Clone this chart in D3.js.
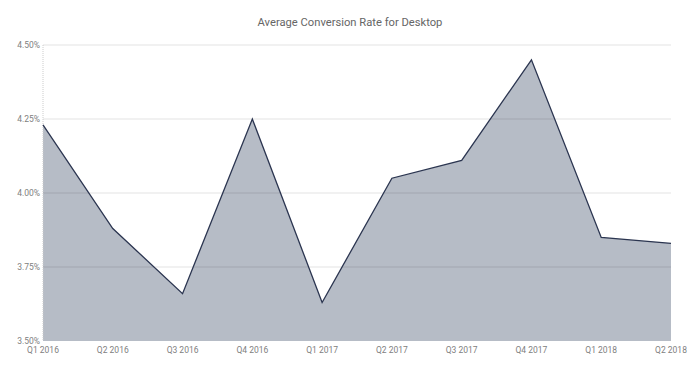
<!DOCTYPE html>
<html>
<head>
<meta charset="utf-8">
<script src="https://cdn.jsdelivr.net/npm/d3@7"></script>
<style>
  body { margin: 0; background: #fff; }
  text { font-family: Roboto, "Noto Sans", sans-serif; }
</style>
</head>
<body>
<svg id="chart" width="700" height="371"></svg>
<script>
const width = 700;
const height = 371;
const margin = { top: 45, right: 29, bottom: 30, left: 43 };

const quarters = ['Q1 2016', 'Q2 2016', 'Q3 2016', 'Q4 2016', 'Q1 2017',
  'Q2 2017', 'Q3 2017', 'Q4 2017', 'Q1 2018', 'Q2 2018'];
const rates = [4.23, 3.88, 3.66, 4.25, 3.63, 4.05, 4.11, 4.45, 3.85, 3.83];
const yTicks = [3.5, 3.75, 4.0, 4.25, 4.5];
const title = 'Average Conversion Rate for Desktop';

const svg = d3.select('#chart');

const x = d3.scalePoint()
  .domain(quarters)
  .range([margin.left, width - margin.right]);

const y = d3.scaleLinear()
  .domain([3.5, 4.5])
  .range([height - margin.bottom, margin.top]);

const data = quarters.map((q, i) => ({ q, v: rates[i] }));

// area
svg.append('path')
  .datum(data)
  .attr('fill', '#b6bcc6')
  .attr('d', d3.area().x(d => x(d.q)).y0(y(3.5)).y1(d => y(d.v)));

// grid lines over the area
svg.append('g')
  .selectAll('line')
  .data(yTicks.slice(1))
  .join('line')
  .attr('x1', margin.left)
  .attr('x2', width - margin.right)
  .attr('y1', d => y(d))
  .attr('y2', d => y(d))
  .attr('stroke', 'rgba(0,0,0,0.11)')
  .attr('stroke-width', 1);

// left dotted axis line
svg.append('line')
  .attr('x1', margin.left).attr('x2', margin.left)
  .attr('y1', y(4.5)).attr('y2', y(3.5))
  .attr('stroke', '#ccc')
  .attr('stroke-dasharray', '1,1');

// outline
svg.append('path')
  .datum(data)
  .attr('fill', 'none')
  .attr('stroke', '#2b3550')
  .attr('stroke-width', 1.3)
  .attr('d', d3.line().x(d => x(d.q)).y(d => y(d.v)));

// y labels
svg.append('g')
  .selectAll('text')
  .data(yTicks)
  .join('text')
  .attr('x', margin.left - 3)
  .attr('y', d => y(d) + 3)
  .attr('text-anchor', 'end')
  .attr('font-size', 8.5)
  .attr('fill', '#808080')
  .text(d => d3.format('.2f')(d) + '%');

// x labels
svg.append('g')
  .selectAll('text')
  .data(quarters)
  .join('text')
  .attr('x', d => x(d))
  .attr('y', height - margin.bottom + 12)
  .attr('text-anchor', 'middle')
  .attr('font-size', 8.5)
  .attr('fill', '#808080')
  .text(d => d);

svg.append('text')
  .attr('x', 350)
  .attr('y', 26)
  .attr('text-anchor', 'middle')
  .attr('font-size', 11.2)
  .attr('fill', '#666')
  .text(title);
</script>
</body>
</html>
